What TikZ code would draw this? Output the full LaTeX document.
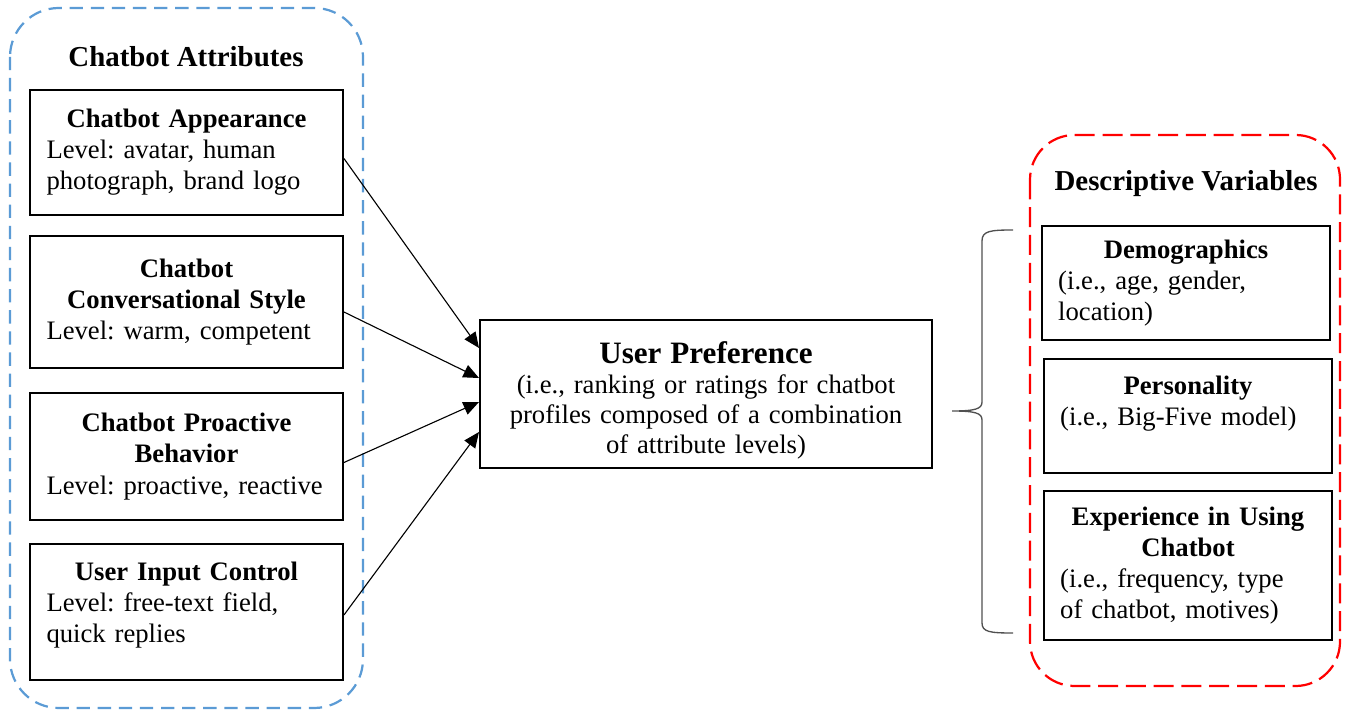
\documentclass[tikz,border=0pt]{standalone}
\usepackage{fontspec}
\setmainfont{Liberation Serif}
\usepackage{tikz}
\usetikzlibrary{arrows.meta,calc}
\frenchspacing
\hyphenpenalty=10000
\definecolor{attrblue}{RGB}{91,155,213}
\definecolor{descred}{RGB}{255,0,0}
\definecolor{bracegray}{RGB}{80,80,80}
\tikzstyle{arrow} = [line width=0.5pt,-{Triangle[length=7pt,width=6pt]}]
\tikzstyle{frame} = [line width=1pt, rounded corners=22pt]
\tikzstyle{heading} = [font=\fontsize{13}{15}\selectfont\bfseries]
\tikzstyle{attrbox} = [rectangle, draw, line width=0.9pt, text width=126pt, inner xsep=7.4pt, align=left, font=\fontsize{12}{14}\selectfont]
\tikzstyle{descbox} = [rectangle, draw, line width=0.9pt, text width=115pt, inner xsep=7.3pt, align=left, font=\fontsize{12}{14}\selectfont]

\begin{document}
\begin{tikzpicture}[x=0.45pt, y=-0.45pt]
\useasboundingbox (0,0) rectangle (1346,710);

% Attribute group
\draw[frame, attrblue, dash pattern=on 6pt off 3.5pt] (10,8) rectangle (363,708);
\node[heading] (attrtitle) at (186,57) {Chatbot Attributes};

\node[attrbox, minimum height=56.3pt] (appear) at (186.5,152.5)
  {{\centering\bfseries Chatbot Appearance\par}Level: avatar, human\\photograph, brand logo};
\node[attrbox, minimum height=59.4pt] (style) at (186.5,302)
  {{\centering\bfseries Chatbot\\Conversational Style\par}Level: warm, competent};
\node[attrbox, minimum height=57.2pt] (proact) at (186.5,456.5)
  {{\centering\bfseries Chatbot Proactive\\Behavior\par}Level: proactive, reactive};
\node[attrbox, minimum height=61.2pt] (input) at (186.5,612)
  {{\centering\bfseries User Input Control\par}Level: free-text field,\\quick replies\rule[-8.5pt]{0pt}{0pt}};

% Outcome
\node[rectangle, draw, line width=0.9pt, text width=190pt, inner xsep=6.7pt, minimum height=66.6pt,
      align=center, font=\fontsize{12}{13.6}\selectfont] (pref) at (706,394)
  {{\fontsize{14}{17}\selectfont\bfseries\rule{0pt}{15.5pt}User Preference\par}(i.e., ranking or ratings for chatbot\\profiles composed of a combination\\of attribute levels)};

\draw[arrow] ($(appear.east)+(0,6)$) -- ($(pref.west)+(0,-46)$);
\draw[arrow] ($(style.east)+(0,10)$) -- ($(pref.west)+(0,-16)$);
\draw[arrow] ($(proact.east)+(0,6)$) -- ($(pref.west)+(0,8)$);
\draw[arrow] ($(input.east)+(0,3)$) -- ($(pref.west)+(0,38)$);

% Descriptive group
\draw[frame, descred, dash pattern=on 9pt off 3.5pt, rounded corners=20pt] (1030,135) rectangle (1340,686);
\node[heading] (desctitle) at (1186,184) {Descriptive Variables};

\node[descbox, minimum height=51.3pt] (demo) at (1186,283)
  {{\centering\bfseries Demographics\par}(i.e., age, gender,\\location)};
\node[descbox, minimum height=51.3pt] (person) at (1188,416)
  {{\centering\bfseries Personality\par}(i.e., Big-Five model)\\\mbox{}};
\node[descbox, minimum height=67pt] (exper) at (1188,565.5)
  {{\centering\bfseries Experience in Using\\Chatbot\par}(i.e., frequency, type\\of chatbot, motives)};

% Brace
\draw[bracegray, line width=0.6pt] (1013,230) .. controls (990,230) and (982,231) .. (982,241)
  -- (982,402) .. controls (982,409) and (975,411) .. (952,411)
  .. controls (975,411) and (982,413) .. (982,420)
  -- (982,623) .. controls (982,632) and (990,633) .. (1013,633);
\end{tikzpicture}
\end{document}
